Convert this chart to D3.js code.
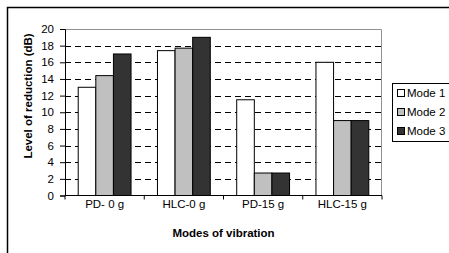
<!DOCTYPE html>
<html>
<head>
<meta charset="utf-8">
<script src="https://cdn.jsdelivr.net/npm/d3@7"></script>
<style>
  body { margin: 0; background: #fff; }
  svg { display: block; font-family: "Liberation Sans", Arial, sans-serif; }
</style>
</head>
<body>
<svg class="chart"></svg>
<script>
// data
const categories = ["PD- 0 g", "HLC-0 g", "PD-15 g", "HLC-15 g"];
const modes = ["Mode 1", "Mode 2", "Mode 3"];
const mode1 = [13.0, 17.4, 11.5, 16.0];
const mode2 = [14.4, 17.7, 2.7, 9.0];
const mode3 = [17.0, 19.0, 2.7, 9.0];
const yTicks = [0, 2, 4, 6, 8, 10, 12, 14, 16, 18, 20];
const colors = ["#ffffff", "#c0c0c0", "#333333"];

const series = [mode1, mode2, mode3];

let width = 449, height = 253;
let margin = {top: 29, right: 67, bottom: 57.5, left: 65};
let widthChart = width - margin.left - margin.right;
let heightChart = height - margin.top - margin.bottom;

let svg = d3.select(".chart").attr("width", width).attr("height", height);

// outer frame (runs off the right/bottom edge)
svg.append("rect")
  .attr("x", 7.5).attr("y", 7.5)
  .attr("width", 460).attr("height", 260)
  .attr("fill", "none").attr("stroke", "#000").attr("stroke-width", 1.5);

let chart = svg.append("g")
  .attr("transform", "translate(" + margin.left + "," + margin.top + ")");

let x = d3.scaleBand().domain(categories).range([0, widthChart]).padding(0);
let inner = d3.scaleBand().domain(modes)
  .range([x.bandwidth() / 6, x.bandwidth() * 5 / 6]);
let y = d3.scaleLinear().domain([0, 20]).range([heightChart, 0]);

// gridlines
chart.append("g").selectAll("line")
  .data(yTicks.filter(d => d > 0 && d < 20))
  .enter().append("line")
  .attr("x1", 0).attr("x2", widthChart)
  .attr("y1", d => Math.round(y(d)) + 0.5).attr("y2", d => Math.round(y(d)) + 0.5)
  .attr("stroke", "#000").attr("stroke-dasharray", "6,4");

// plot area border (grey top & right)
chart.append("path")
  .attr("d", "M0," + (Math.round(y(20)) + 0.5) + "H" + (widthChart - 0.5) + "V" + heightChart)
  .attr("fill", "none").attr("stroke", "#909090");

// bars
let group = chart.selectAll(".grp")
  .data(categories)
  .enter().append("g")
  .attr("class", "grp")
  .attr("transform", d => "translate(" + x(d) + ",0)");

group.selectAll("rect")
  .data((d, i) => series.map((s, j) => ({mode: modes[j], v: s[i], c: colors[j]})))
  .enter().append("rect")
  .attr("x", d => inner(d.mode))
  .attr("y", d => y(d.v))
  .attr("width", inner.bandwidth())
  .attr("height", d => heightChart - y(d.v))
  .attr("fill", d => d.c)
  .attr("stroke", "#000").attr("stroke-width", 1);

// y axis
let yAxis = d3.axisLeft(y).tickValues(yTicks).tickSize(5).tickPadding(6);
let yg = chart.append("g").call(yAxis);
yg.selectAll("text").attr("font-size", "11.5px").attr("fill", "#000").style("font-family", "inherit");
yg.select(".domain").attr("stroke", "#000");

// x axis: labels at centres, ticks at boundaries
let xAxis = d3.axisBottom(x).tickSize(0).tickPadding(4);
let xg = chart.append("g").attr("transform", "translate(0," + heightChart + ")").call(xAxis);
xg.selectAll("text").attr("font-size", "11.5px").attr("fill", "#000").style("font-family", "inherit");
xg.select(".domain").remove();
xg.append("line").attr("x1", 0).attr("x2", widthChart).attr("stroke", "#000");
xg.selectAll(".bound")
  .data(categories.map(c => x(c)).concat([widthChart]))
  .enter().append("line")
  .attr("class", "bound")
  .attr("x1", d => d).attr("x2", d => d)
  .attr("y1", 0).attr("y2", 4)
  .attr("stroke", "#000");

// axis titles
chart.append("text")
  .text("Modes of vibration")
  .attr("x", widthChart / 2).attr("y", heightChart + 41)
  .attr("text-anchor", "middle").attr("font-size", "11.5px").attr("font-weight", "bold");

svg.append("text")
  .text("Level of reduction (dB)")
  .attr("transform", "translate(32,96) rotate(-90)")
  .attr("text-anchor", "middle").attr("font-size", "11.5px").attr("font-weight", "bold");

// legend
let legend = svg.append("g").attr("transform", "translate(392,83)");
legend.append("rect")
  .attr("x", 0.5).attr("y", 0.5).attr("width", 70).attr("height", 58)
  .attr("fill", "#fff").attr("stroke", "#000");
let item = legend.selectAll(".item")
  .data(modes)
  .enter().append("g")
  .attr("class", "item")
  .attr("transform", (d, i) => "translate(0," + (10 + i * 19) + ")");
item.append("rect")
  .attr("x", 5.5).attr("y", -3.5).attr("width", 7).attr("height", 7)
  .attr("fill", (d, i) => colors[i]).attr("stroke", "#000");
item.append("text")
  .text(d => d)
  .attr("x", 15).attr("y", 4)
  .attr("font-size", "11.5px");
</script>
</body>
</html>
